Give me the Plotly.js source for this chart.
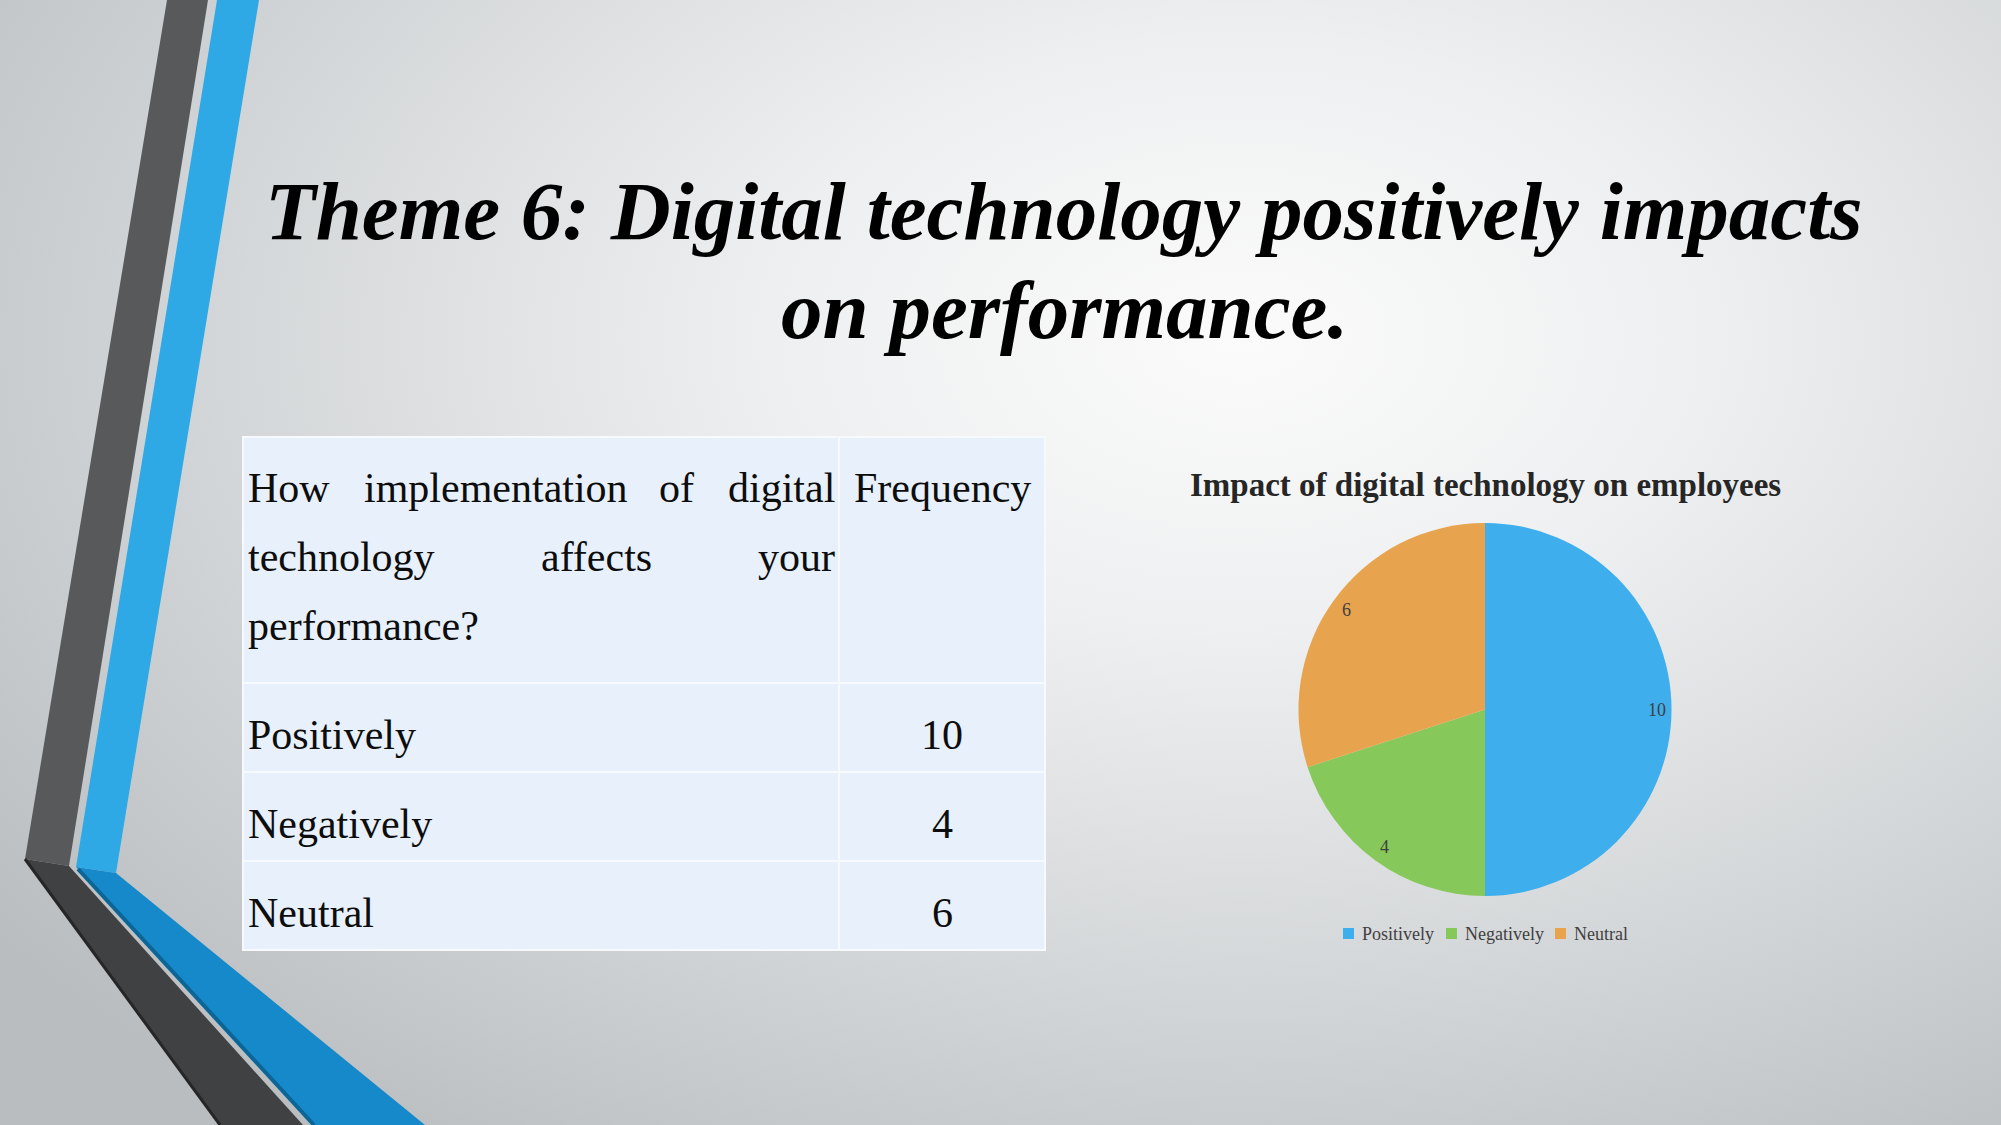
<!DOCTYPE html>
<html>
<head>
<meta charset="utf-8">
<script src="https://cdn.plot.ly/plotly-3.0.1.min.js"></script>
<style>
  html, body { margin: 0; padding: 0; }
  body {
    width: 2001px; height: 1125px; overflow: hidden;
    background: radial-gradient(ellipse 78% 88% at 62% 30%, #fbfbfb 0%, #eeeff0 30%, #d3d6d8 66%, #b9bdc0 100%);
  }
  #chart { width: 2001px; height: 1125px; }
</style>
</head>
<body>
<div id="chart"></div>
<script>
// ---- data ----
const slideTitle = ["Theme 6: Digital technology positively impacts", "on performance."];
const questionLines = [["How", "implementation", "of", "digital"], ["technology", "affects", "your"], ["performance?"]];
const freqHeader = "Frequency";
const categories = ["Positively", "Negatively", "Neutral"];
const frequencies = [10, 4, 6];
const chartTitle = "Impact of digital technology on employees";
const sliceColors = ["#3eaeec", "#87c85a", "#e7a34e"];

// ---- layout helpers (pixel space) ----
const W = 2001, H = 1125;
const serif = "Liberation Serif, Times New Roman, serif";
const shapes = [];
const annotations = [];

function poly(pts, color) {
  shapes.push({type: "path", xref: "x", yref: "y", layer: "below",
    path: "M" + pts.map(p => p[0] + "," + p[1]).join("L") + "Z",
    fillcolor: color, line: {width: 0}});
}
function seg(a, b, color, w) {
  shapes.push({type: "line", xref: "x", yref: "y", layer: "below",
    x0: a[0], y0: a[1], x1: b[0], y1: b[1], line: {color: color, width: w}});
}
// decorative stripes
poly([[167,0],[208,0],[69,866],[25,859]], "#58595b");
poly([[25,859],[69,866],[303,1125],[220,1125]], "#404142");
seg([25,859],[220,1125], "#262626", 3);
poly([[217,0],[259,0],[116,873],[76,867]], "#2ea9e6");
poly([[76,867],[116,873],[425,1125],[312,1125]], "#1589c9");
seg([78,869],[314,1125], "#0d6596", 4);

// slide title
const titleY = [211, 310];
slideTitle.forEach((t, i) => annotations.push({
  xref: "x", yref: "y", x: 1064, y: titleY[i], text: t, showarrow: false,
  xanchor: "center", yanchor: "middle",
  font: {family: serif, size: 83, color: "#000", weight: "bold", style: "italic"}
}));

// table
const tL = 243, tR = 1045, tC = 839, tT = 437, tB = 950;
const rowLines = [683, 772, 861];
shapes.push({type: "rect", xref: "x", yref: "y", layer: "below", x0: tL, x1: tR, y0: tT, y1: tB,
  fillcolor: "#e8f1fb", line: {color: "#f7fafd", width: 2}});
rowLines.forEach(y => seg([tL, y], [tR, y], "#f7fafd", 2));
seg([tC, tT], [tC, tB], "#f7fafd", 2);

const tfont = {family: serif, size: 42, color: "#0d0d0d"};
const off = 15; // baseline -> middle
const qWordX = [[246, 362, 657, 726], [246, 539, 756], [246]];
const qBase = [503, 572, 641];
questionLines.forEach((words, li) => words.forEach((w, wi) => annotations.push({
  xref: "x", yref: "y", x: qWordX[li][wi], y: qBase[li] - off, text: w, showarrow: false,
  xanchor: "left", yanchor: "middle", font: tfont
})));
annotations.push({xref: "x", yref: "y", x: 942, y: 503 - off, text: freqHeader, showarrow: false,
  xanchor: "center", yanchor: "middle", font: tfont});
const rowBase = [750, 839, 928];
categories.forEach((c, i) => {
  annotations.push({xref: "x", yref: "y", x: 246, y: rowBase[i] - off, text: c, showarrow: false,
    xanchor: "left", yanchor: "middle", font: tfont});
  annotations.push({xref: "x", yref: "y", x: 942, y: rowBase[i] - off, text: String(frequencies[i]), showarrow: false,
    xanchor: "center", yanchor: "middle", font: tfont});
});

// chart title
annotations.push({xref: "x", yref: "y", x: 1485, y: 485, text: chartTitle, showarrow: false,
  xanchor: "center", yanchor: "middle",
  font: {family: serif, size: 33, color: "#262626", weight: "bold"}});

// pie geometry
const cx = 1485, cy = 709.5, R = 186.5;
const total = frequencies.reduce((a, b) => a + b, 0);
let cum = 0;
frequencies.forEach((v, i) => {
  const th = 2 * Math.PI * (cum + v / 2) / total;
  cum += v;
  annotations.push({xref: "x", yref: "y",
    x: cx + 0.92 * R * Math.sin(th), y: cy - 0.91 * R * Math.cos(th),
    text: String(v), showarrow: false, xanchor: "center", yanchor: "middle",
    font: {family: serif, size: 18, color: "#404040"}});
});

// legend (drawn manually to match spacing)
const legendX = [1343, 1446, 1555];
const legendY = 933.5;
categories.forEach((c, i) => {
  shapes.push({type: "rect", xref: "x", yref: "y", x0: legendX[i], x1: legendX[i] + 11,
    y0: legendY - 5.5, y1: legendY + 5.5, fillcolor: sliceColors[i], line: {width: 0}});
  annotations.push({xref: "x", yref: "y", x: legendX[i] + 17, y: legendY, text: c, showarrow: false,
    xanchor: "left", yanchor: "middle", font: {family: serif, size: 18, color: "#404040"}});
});

const data = [{
  type: "pie",
  labels: categories,
  values: frequencies,
  sort: false,
  direction: "clockwise",
  rotation: 0,
  textinfo: "none",
  hoverinfo: "label+value",
  showlegend: false,
  marker: {colors: sliceColors, line: {width: 0}},
  domain: {x: [(cx - R) / W, (cx + R) / W], y: [1 - (cy + R) / H, 1 - (cy - R) / H]}
}];

const layout = {
  width: W, height: H,
  margin: {l: 0, r: 0, t: 0, b: 0, pad: 0},
  paper_bgcolor: "rgba(0,0,0,0)",
  plot_bgcolor: "rgba(0,0,0,0)",
  xaxis: {range: [0, W], visible: false, fixedrange: true, domain: [0, 1]},
  yaxis: {range: [H, 0], visible: false, fixedrange: true, domain: [0, 1]},
  showlegend: false,
  shapes: shapes,
  annotations: annotations
};

Plotly.newPlot("chart", data, layout, {displayModeBar: false, staticPlot: true});
</script>
</body>
</html>
